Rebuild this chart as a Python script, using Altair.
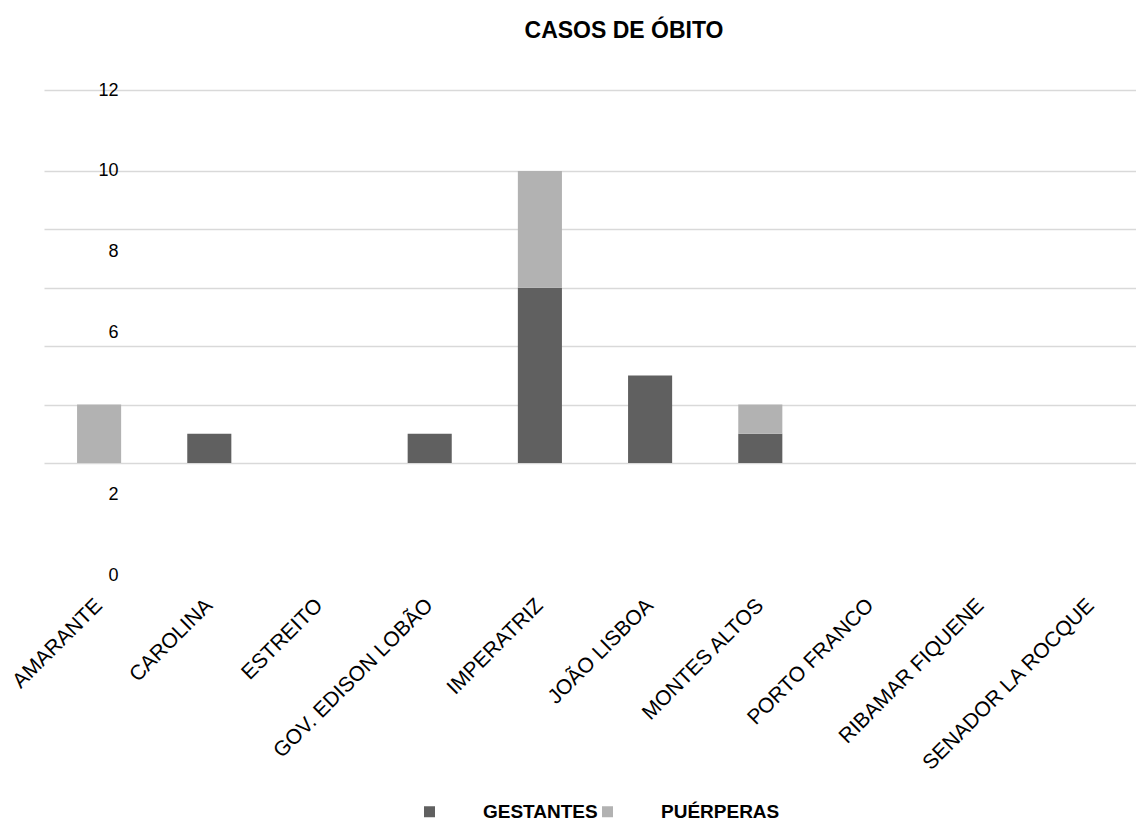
import altair as alt
import pandas as pd

categories = ["AMARANTE", "CAROLINA", "ESTREITO", "GOV. EDISON LOBÃO", "IMPERATRIZ",
              "JOÃO LISBOA", "MONTES ALTOS", "PORTO FRANCO", "RIBAMAR FIQUENE",
              "SENADOR LA ROCQUE"]
gestantes = [0, 1, 0, 1, 6, 3, 1, 0, 0, 0]
puerperas = [2, 0, 0, 0, 4, 0, 1, 0, 0, 0]
series_names = ["GESTANTES", "PUÉRPERAS"]
series_colors = ["#606060", "#b2b2b2"]
y_ticks = [0, 2, 4, 6, 8, 10, 12]

rows = []
for c, g, p in zip(categories, gestantes, puerperas):
    if g:
        rows.append({"municipio": c, "serie": series_names[0], "casos": g, "ordem": 0})
    if p:
        rows.append({"municipio": c, "serie": series_names[1], "casos": p, "ordem": 1})
df = pd.DataFrame(rows)
ticks_df = pd.DataFrame({"valor": y_ticks})

FONT = "Liberation Sans"

bars = alt.Chart(df).mark_bar().encode(
    x=alt.X("municipio:N", sort=categories,
            scale=alt.Scale(domain=categories, range=[0, 1102], paddingInner=0.6, paddingOuter=0.3),
            axis=alt.Axis(title=None, labelAngle=315, labelAlign="right", labelBaseline="middle",
                          labelPadding=27, ticks=False, domain=False, grid=False,
                          labelFont=FONT, labelFontSize=21, labelColor="#000000", labelLimit=400)),
    y=alt.Y("casos:Q", stack="zero",
            scale=alt.Scale(domain=[0, 10, 12], range=[373, 81, 0], nice=False, zero=False),
            axis=alt.Axis(title=None, values=y_ticks, labels=False, ticks=False, domain=False,
                          grid=True, gridColor="#d9d9d9", gridWidth=1.3)),
    color=alt.Color("serie:N", scale=alt.Scale(domain=series_names, range=series_colors),
                    legend=alt.Legend(title=None, orient="none", legendX=376, legendY=712,
                                      direction="horizontal", symbolType="square", symbolSize=121,
                                      symbolStrokeWidth=0, labelFont=FONT, labelFontSize=19,
                                      labelFontWeight="bold", labelColor="#000000", labelOffset=44,
                                      columnPadding=-7, padding=0)),
    order=alt.Order("ordem:Q"),
)

labels = alt.Chart(ticks_df).mark_point(opacity=0).encode(
    y=alt.Y("valor:Q", scale=alt.Scale(domain=[0, 12], nice=False, zero=True),
            axis=alt.Axis(title=None, orient="left", values=y_ticks, offset=-76, labelPadding=2,
                          ticks=False, domain=False, grid=False, labelFont=FONT, labelFontSize=18,
                          labelColor="#000000", labelFlush=False))
)

chart = alt.layer(bars, labels).resolve_scale(y="independent").properties(
    width=1092, height=485,
    title=alt.TitleParams(text="CASOS DE ÓBITO", font=FONT, fontSize=23, fontWeight="bold",
                          color="#000000", anchor="middle", dx=34, offset=20, baseline="alphabetic"),
    autosize=alt.AutoSizeParams(type="none"),
    padding={"left": 44, "top": 90, "right": 0, "bottom": 246},
).configure_view(strokeWidth=0)

chart.save("out.html", embed_options={"renderer": "svg", "actions": False})
